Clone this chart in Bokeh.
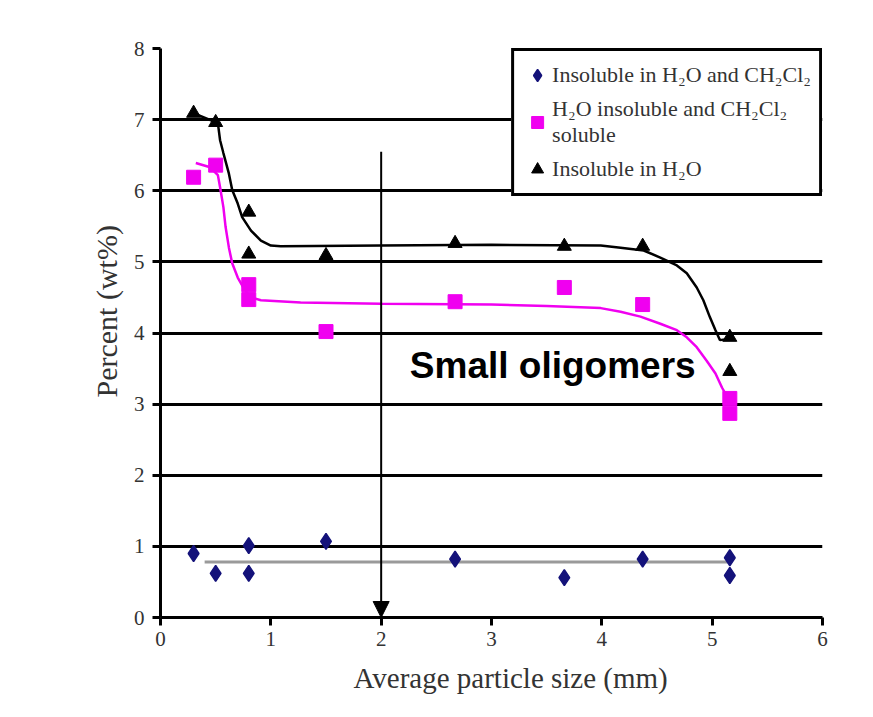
from bokeh.plotting import figure
from bokeh.models import Legend, LegendItem, Arrow, NormalHead, FixedTicker, Label, Range1d, Title
from bokeh.embed import file_html
from bokeh.resources import INLINE

# ---- data ----
size_mm = [0.30, 0.50, 0.80, 0.80, 1.50, 2.67, 3.66, 4.37, 5.16, 5.16]
insol_both = [0.90, 0.62, 1.01, 0.62, 1.07, 0.82, 0.56, 0.82, 0.84, 0.59]
dcm_soluble = [6.19, 6.36, 4.68, 4.47, 4.02, 4.44, 4.64, 4.40, 3.08, 2.87]
insol_water = [7.09, 6.96, 5.70, 5.11, 5.09, 5.26, 5.22, 5.22, 3.94, 3.46]

# fitted curves
fit_black_x = [0.30, 0.52, 0.54, 0.57, 0.62, 0.65, 0.70, 0.74, 0.82, 0.91, 1.00, 1.09,
               2.00, 3.00, 3.99, 4.17, 4.38, 4.53, 4.68, 4.77, 4.86, 4.92, 4.98, 5.03, 5.07, 5.16]
fit_black_y = [7.09, 6.95, 6.71, 6.53, 6.24, 6.01, 5.82, 5.63, 5.44, 5.30, 5.23, 5.22,
               5.23, 5.24, 5.23, 5.20, 5.16, 5.06, 4.95, 4.84, 4.64, 4.46, 4.22, 4.04, 3.90, 3.92]
fit_mag_x = [0.32, 0.45, 0.52, 0.54, 0.57, 0.59, 0.62, 0.65, 0.70, 0.75, 0.82, 0.91, 1.27,
             2.00, 3.00, 3.50, 3.99, 4.17, 4.35, 4.53, 4.68, 4.77, 4.86, 4.95, 5.03, 5.09, 5.14, 5.16]
fit_mag_y = [6.39, 6.33, 6.22, 6.05, 5.77, 5.49, 5.20, 4.98, 4.78, 4.64, 4.50, 4.46, 4.43,
             4.41, 4.40, 4.38, 4.35, 4.30, 4.23, 4.13, 4.04, 3.94, 3.80, 3.61, 3.43, 3.23, 3.09, 3.01]
fit_gray_x = [0.40, 5.16]
fit_gray_y = [0.78, 0.78]

y_ticks = [0, 1, 2, 3, 4, 5, 6, 7, 8]
x_ticks = [0, 1, 2, 3, 4, 5, 6]

labels = ["Insoluble in H₂O and CH₂Cl₂", "H₂O insoluble and CH₂Cl₂\nsoluble", "Insoluble in H₂O"]
x_title = "Average particle size (mm)"
y_title = "Percent (wt%)"
annotation_text = "Small oligomers"
arrow_x, arrow_top, arrow_bottom = 2.0, 6.55, 0.0
note_x, note_y = 2.26, 3.55

MAG = "#f000f0"
NAVY = "#14127a"
TXT = "#333333"
SERIF = "Liberation Serif"

p = figure(frame_width=662, frame_height=569, output_backend="svg", toolbar_location=None,
           x_range=Range1d(0, 6), y_range=Range1d(0, 8),
           min_border_left=160, min_border_right=51, min_border_top=48, min_border_bottom=100)
p.outline_line_color = None
p.background_fill_color = "white"
p.border_fill_color = "white"

p.xgrid.grid_line_color = None
p.ygrid.grid_line_color = "black"
p.ygrid.grid_line_width = 3
p.yaxis.ticker = FixedTicker(ticks=y_ticks)
p.xaxis.ticker = FixedTicker(ticks=x_ticks)
p.ygrid.ticker = FixedTicker(ticks=y_ticks)

for ax in (p.xaxis[0], p.yaxis[0]):
    ax.axis_line_width = 3
    ax.axis_line_color = "black"
    ax.major_tick_line_width = 3
    ax.major_tick_line_color = "black"
    ax.major_tick_out = 8
    ax.major_tick_in = 0
    ax.minor_tick_line_color = None
    ax.major_label_text_font = SERIF
    ax.major_label_text_font_size = "21px"
    ax.major_label_text_color = TXT

p.xaxis.major_label_standoff = 6
p.yaxis.major_label_standoff = 8

# axis titles as side-panel titles so they can be offset like the reference
p.add_layout(Title(text=x_title, align="left", offset=193, standoff=23, text_font=SERIF,
                   text_font_size="29px", text_font_style="normal", text_color=TXT), "below")
p.add_layout(Title(text=y_title, align="left", offset=220, standoff=16, text_font=SERIF,
                   text_font_size="30px", text_font_style="normal", text_color=TXT), "left")

# fitted lines
p.line(fit_gray_x, fit_gray_y, line_color="#9a9a9a", line_width=3)
p.line(fit_mag_x, fit_mag_y, line_color=MAG, line_width=2.5)
p.line(fit_black_x, fit_black_y, line_color="black", line_width=2.5)

# markers
r_d = p.scatter(size_mm, insol_both, marker="diamond", size=16, fill_color=NAVY, line_color=NAVY, line_width=1.5)
r_s = p.scatter(size_mm, dcm_soluble, marker="square", size=14, fill_color=MAG, line_color=MAG)
r_t = p.scatter(size_mm, insol_water, marker="triangle", size=14, fill_color="black", line_color="black")

# arrow and note
p.add_layout(Arrow(end=NormalHead(size=16, fill_color="black", line_color="black"),
                   x_start=arrow_x, y_start=arrow_top, x_end=arrow_x, y_end=arrow_bottom,
                   line_width=2, line_color="black"))
p.add_layout(Label(x=note_x, y=note_y, text=annotation_text, text_font="Liberation Sans",
                   text_font_style="bold", text_font_size="37px", text_color="black",
                   text_baseline="alphabetic"))

legend = Legend(items=[LegendItem(label=labels[0], renderers=[r_d]),
                       LegendItem(label=labels[1], renderers=[r_s]),
                       LegendItem(label=labels[2], renderers=[r_t])],
                location="top_right")
legend.margin = 0
legend.padding = 8
legend.spacing = 5
legend.border_line_color = "black"
legend.border_line_alpha = 1
legend.border_line_width = 3
legend.background_fill_color = "white"
legend.background_fill_alpha = 1
legend.label_text_font = SERIF
legend.label_text_font_size = "22px"
legend.label_text_color = TXT
legend.glyph_width = 30
legend.glyph_height = 32
legend.label_standoff = 0
p.add_layout(legend)

open("out.html", "w").write(file_html(p, INLINE))
